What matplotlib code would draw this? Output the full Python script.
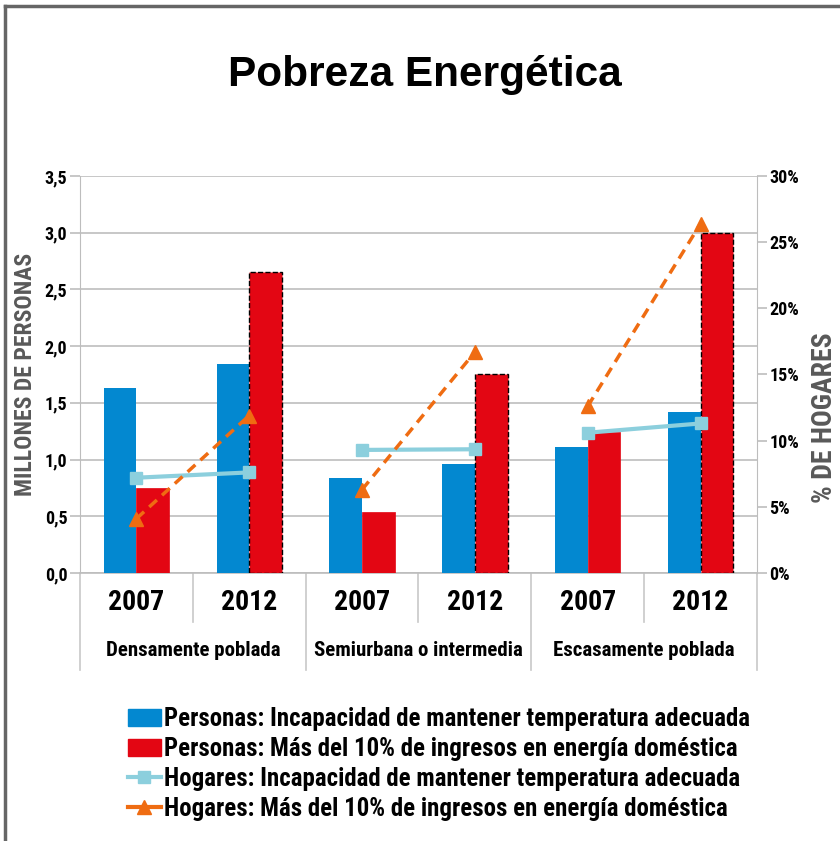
import matplotlib.pyplot as plt
import matplotlib.transforms as mtransforms
from matplotlib import font_manager as fm
from matplotlib.lines import Line2D
from matplotlib.patches import Rectangle
import numpy as np

# data
groups = ["Densamente poblada", "Semiurbana o intermedia", "Escasamente poblada"]
years = ["2007", "2012"]
personas_temp = [1.63, 1.84, 0.84, 0.96, 1.11, 1.42]
personas_ingresos = [0.75, 2.65, 0.54, 1.75, 1.24, 3.00]
hogares_temp = [7.2, 7.6, 9.3, 9.35, 10.6, 11.3]
hogares_ingresos = [4.1, 11.9, 6.3, 16.7, 12.6, 26.4]
labels = [
    "Personas: Incapacidad de mantener temperatura adecuada",
    "Personas: Más del 10% de ingresos en energía doméstica",
    "Hogares: Incapacidad de mantener temperatura adecuada",
    "Hogares: Más del 10% de ingresos en energía doméstica",
]

c_blue = "#0388d0"
c_red = "#e30613"
c_lblue = "#8ccfdd"
c_orange = "#ef6c12"


# pick a condensed bold family if one is installed
def bold_families():
    out = set()
    for f in fm.fontManager.ttflist:
        w = f.weight if isinstance(f.weight, int) else (700 if "bold" in str(f.weight) else 400)
        if w >= 600:
            out.add(f.name)
    return out


bolds = bold_families()
cands = ["Liberation Sans Narrow", "Arial Narrow", "Roboto Condensed", "Archivo Narrow",
         "PT Sans Narrow", "Fira Sans Condensed", "IBM Plex Sans Condensed",
         "Barlow Semi Condensed", "Encode Sans Condensed", "Asap Condensed",
         "Open Sans Condensed", "Sofia Sans Condensed"]
cond = next((c for c in cands if c in bolds), None)
if cond:
    narrow = [cond, "DejaVu Sans"]
    k = 1.0
else:
    narrow = ["Liberation Sans", "DejaVu Sans"]
    k = 0.84
wide = ["Liberation Sans", "DejaVu Sans"]

fig = plt.figure(figsize=(8.4, 8.41), dpi=100)
ax = fig.add_axes([0.0952, 0.3187, 0.806, 0.472])
ax2 = ax.twinx()

x = np.arange(len(personas_temp))
w = 0.29
ax.bar(x - w / 2, personas_temp, w, color=c_blue, zorder=3)
for i in x:
    dashed = years[i % 2] == "2012"
    ax.bar(i + w / 2, personas_ingresos[i], w, color=c_red, zorder=3,
           edgecolor="black" if dashed else c_red,
           linestyle="--" if dashed else "-", linewidth=1.0 if dashed else 0.5)

# lines per group (two points each)
for g in range(len(groups)):
    idx = [2 * g, 2 * g + 1]
    ax2.plot(idx, [hogares_temp[k_] for k_ in idx], color=c_lblue, lw=3,
             marker="s", ms=9, zorder=4)
    ax2.plot(idx, [hogares_ingresos[k_] for k_ in idx], color=c_orange, lw=2.5,
             ls=(0, (3, 2)), zorder=4)
    ax2.plot(idx, [hogares_ingresos[k_] for k_ in idx], color=c_orange, lw=0,
             marker="^", ms=10, zorder=5)

ax.set_xlim(-0.5, 5.5)
ax.set_ylim(0, 3.5)
ax2.set_ylim(0, 30)
ax.set_yticks(np.arange(0, 3.51, 0.5))
ax.set_yticklabels([f"{v:.1f}".replace(".", ",") for v in np.arange(0, 3.51, 0.5)])
ax2.set_yticks(np.arange(0, 31, 5))
ax2.set_yticklabels([f"{v}%" for v in range(0, 31, 5)])
ax.yaxis.grid(True, color="#bdbdbd", lw=1.2, zorder=0)
ax.set_axisbelow(True)
ax.set_xticks([])

for a in (ax, ax2):
    for s in a.spines.values():
        s.set_visible(False)
    a.tick_params(axis="y", length=7, width=1.2, color="#bdbdbd", pad=2)
    for t in a.get_yticklabels():
        t.set_fontfamily(narrow)
        t.set_fontweight("bold")
        t.set_fontsize(13 * k)
ax.spines["left"].set_visible(True)
ax.spines["left"].set_color("#bdbdbd")
ax2.spines["right"].set_visible(True)
ax2.spines["right"].set_color("#bdbdbd")
ax.spines["bottom"].set_visible(True)
ax.spines["bottom"].set_color("#bdbdbd")
ax.spines["bottom"].set_linewidth(1.2)

# category axis labels
trans = mtransforms.blended_transform_factory(ax.transData, fig.transFigure)
y_bot = 0.3187
for i in x:
    ax.text(i, 1 - 603 / 841, years[i % 2], transform=trans, ha="center", va="center",
            fontsize=20 * k, fontweight="bold", family=narrow)
for g, name in enumerate(groups):
    ax.text(2 * g + 0.5, 1 - 651 / 841, name, transform=trans, ha="center", va="center",
            fontsize=15 * k, fontweight="bold", family=narrow)
for b in np.arange(-0.5, 6, 1):
    long_line = (b + 0.5) % 2 == 0
    y_end = 1 - (670 if long_line else 622) / 841
    ax.add_line(Line2D([b, b], [y_bot, y_end], transform=trans, color="#c8c8c8",
                       lw=1.2, clip_on=False))

ax.set_ylabel("MILLONES DE PERSONAS", fontsize=17 * k, fontweight="bold", color="#595959",
              family=narrow)
ax.yaxis.set_label_coords(-0.064, 0.5)
ax2.set_ylabel("% DE HOGARES", fontsize=20 * k, fontweight="bold", color="#595959",
               family=narrow, rotation=90)
ax2.yaxis.set_label_coords(1.080, 0.39)

fig.text(0.506, 1 - 75 / 841, "Pobreza Energética", ha="center", va="center",
         fontsize=30.5, fontweight="bold", family=wide)

handles = [
    Rectangle((0, 0), 1, 1, color=c_blue),
    Rectangle((0, 0), 1, 1, color=c_red),
    Line2D([], [], color=c_lblue, lw=3, marker="s", ms=9),
    Line2D([], [], color=c_orange, lw=3, marker="^", ms=10),
]
fig.legend(handles, labels, loc="upper left", bbox_to_anchor=(0.152, 1 - 707 / 841),
           frameon=False, handlelength=1.35, handletextpad=0.12, labelspacing=0.24,
           borderpad=0, borderaxespad=0,
           prop={"family": narrow, "weight": "bold", "size": 17.9 * k})

# outer frame
fig.add_artist(Line2D([0.006, 0.006], [0, 0.993], color="#666666", lw=2.5))
fig.add_artist(Line2D([0.006, 1], [0.993, 0.993], color="#666666", lw=2.5))

fig.savefig("out.png", dpi=100)
